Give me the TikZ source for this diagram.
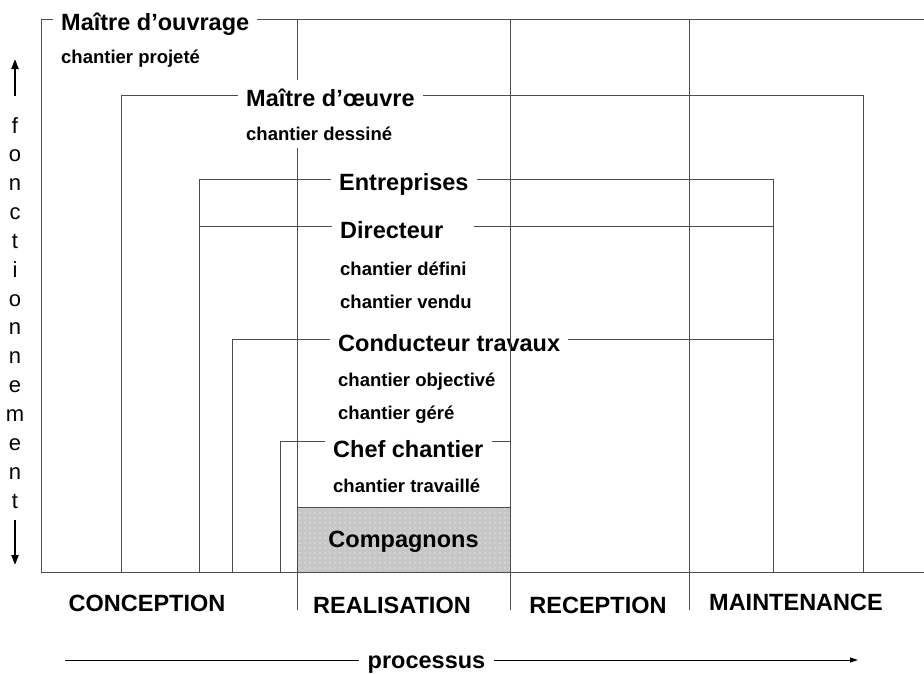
\documentclass[tikz,border=0pt]{standalone}
\usepackage{fontspec}
\setmainfont{Liberation Sans}
\usetikzlibrary{arrows.meta,patterns.meta}
\tikzset{
  >={Triangle[length=10pt, width=7pt]},
  role/.style={font=\fontsize{23.5}{26}\selectfont\bfseries, inner xsep=8pt, inner ysep=0pt, anchor=base west},
  sublabel/.style={font=\fontsize{18.5}{21}\selectfont\bfseries, inner sep=0pt, anchor=base west},
  phase/.style={font=\fontsize{23.5}{26}\selectfont\bfseries, inner xsep=9pt, inner ysep=0pt, anchor=base},
  letter/.style={font=\fontsize{22}{24}\selectfont, inner sep=0pt, anchor=base},
  link/.style={draw=black!70, line width=1pt},
  axis/.style={->, line width=2pt},
  flow/.style={-{Triangle[length=8pt, width=5pt]}, line width=1pt},
  crew/.style={draw=black!70, line width=1pt, preaction={fill=black!22},
    pattern={Dots[distance=5pt, radius=0.6pt]}, pattern color=white,
    minimum width=213pt, minimum height=65pt, text depth=0pt,
    font=\fontsize{23.5}{26}\selectfont\bfseries},
}

\begin{document}
\begin{tikzpicture}[x=1pt, y=-1pt]
    \useasboundingbox (0,0) rectangle (924,673);

    % corners of the brackets
    \coordinate (ouvL) at (41,19);   \coordinate (ouvR) at (924,19);
    \coordinate (oeuL) at (121,95);  \coordinate (oeuR) at (863,95);
    \coordinate (entL) at (199,179); \coordinate (entR) at (773,179);
    \coordinate (dirL) at (199,226); \coordinate (dirR) at (773,226);
    \coordinate (conL) at (232,339); \coordinate (conR) at (773,339);
    \coordinate (chfL) at (280,441); \coordinate (chfR) at (510,441);
    \coordinate (baseL) at (41,572); \coordinate (baseR) at (924,572);

    % compagnons
    \node[crew] (comp) at (403.5,539.5) {Compagnons};

    % roles
    \node[role] (ouv) at (53,30)  {Maître d’ouvrage};
    \node[role] (oeu) at (238,106) {Maître d’œuvre};
    \node[role] (ent) at (331,190) {Entreprises};
    \node[role] (dir) at (332,238) {Directeur};
    \node[role] (con) at (330,351) {Conducteur travaux};
    \node[role] (chf) at (325,457) {Chef chantier};

    % states
    \node[sublabel] (pro) at (61,63)   {chantier projeté};
    \node[sublabel] (des) at (246,140) {chantier dessiné};
    \node[sublabel] (def) at (340,275) {chantier défini};
    \node[sublabel] (ven) at (340,308) {chantier vendu};
    \node[sublabel] (obj) at (338,386) {chantier objectivé};
    \node[sublabel] (ger) at (338,419) {chantier géré};
    \node[sublabel] (tra) at (333,492) {chantier travaillé};

    % brackets
    \draw[link] (ouv.west |- ouvL) -- (ouvL) -- (ouvL |- baseL);
    \draw[link] (ouv.east |- ouvR) -- (ouvR);
    \draw[link] (oeu.west |- oeuL) -- (oeuL) -- (oeuL |- baseL);
    \draw[link] (oeu.east |- oeuR) -- (oeuR) -- (oeuR |- baseL);
    \draw[link] (ent.west |- entL) -- (entL) -- (entL |- baseL);
    \draw[link] (ent.east |- entR) -- (entR) -- (entR |- baseL);
    \draw[link] (dir.west |- dirL) -- (dirL);
    \draw[link] ([xshift=22pt]dir.east |- dirR) -- (dirR);
    \draw[link] (con.west |- conL) -- (conL) -- (conL |- baseL);
    \draw[link] (con.east |- conR) -- (conR);
    \draw[link] (chf.west |- chfL) -- (chfL) -- (chfL |- baseL);
    \draw[link] (chf.east |- chfR) -- (chfR);
    \draw[link] (baseL) -- (baseR);

    % phases
    \draw[link] (297,19) -- (297,80);
    \draw[link] (297,148) -- (297,610);
    \foreach \x in {510,689}
      \draw[link] (\x,19) -- (\x,610);
    \node[phase] (cpt) at (147,611) {CONCEPTION};
    \node[phase] (rea) at (392,613) {REALISATION};
    \node[phase] (rec) at (598,613) {RECEPTION};
    \node[phase] (mtn) at (796,610) {MAINTENANCE};

    % processus
    \coordinate (procL) at (65,660);
    \coordinate (procR) at (858,660);
    \node[phase] (proc) at (426.5,668) {processus};
    \draw[link, draw=black] (procL) -- (procL -| proc.west);
    \draw[flow] (procR -| proc.east) -- (procR);

    % fonctionnement
    \foreach \ch [count=\i from 0] in {f,o,n,c,t,i,o,n,n,e,m,e,n,t}
      \node[letter] (l\i) at (15,133+28.85*\i) {\ch};
    \coordinate (upA) at (15,96);  \coordinate (upB) at (15,59);
    \coordinate (dnA) at (15,520); \coordinate (dnB) at (15,565);
    \draw[axis] (upA) -- (upB);
    \draw[axis] (dnA) -- (dnB);
\end{tikzpicture}
\end{document}
